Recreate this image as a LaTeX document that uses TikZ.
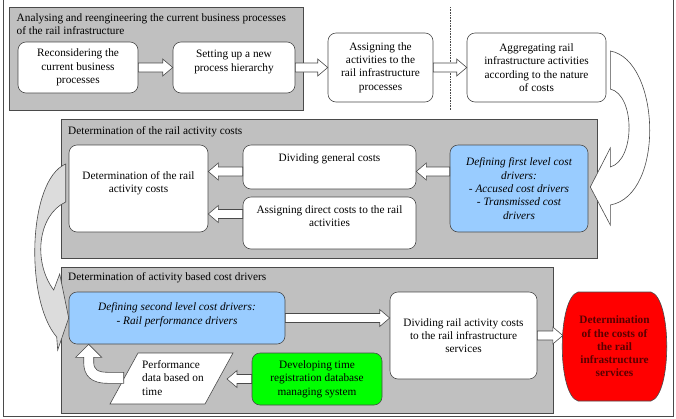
\documentclass[tikz,border=0pt]{standalone}
\usepackage{fontspec}
\setmainfont{Liberation Serif}
\usetikzlibrary{calc}
\definecolor{boxgray}{HTML}{C0C0C0}
\definecolor{edgegray}{HTML}{4A4A4A}
\definecolor{lightblue}{HTML}{99CCFF}
\definecolor{brightgreen}{HTML}{00FF00}
\definecolor{brightred}{HTML}{FF0000}
\definecolor{darkred}{HTML}{5A0000}
\definecolor{pale}{HTML}{DCDCDC}
\newcommand\diagfont{\fontsize{11.3}{13.3}\selectfont}
\tikzset{
  group/.style={draw=edgegray, fill=boxgray, line width=0.8pt},
  txt/.style={font=\diagfont},
  proc/.style={txt, draw=edgegray, fill=white, rounded corners=8pt, line width=0.6pt, align=center, inner sep=1pt},
  grouptitle/.style={txt, inner sep=0pt},
  hollow/.style={draw=edgegray, fill=white, line width=0.6pt, line join=miter},
}
\newcommand\hollowarrow[2]{%
  \path #1; \pgfgetlastxy{\hax}{\hay}%
  \path #2; \pgfgetlastxy{\hbx}{\hby}%
  \pgfmathsetmacro\hang{atan2((\hby)-(\hay),(\hbx)-(\hax))}%
  \pgfmathsetmacro\hlen{veclen((\hbx)-(\hax),(\hby)-(\hay))}%
  \draw[hollow,shift={(\hax,\hay)},rotate=\hang] (0,-4.5) -- ({\hlen-10},-4.5) -- ({\hlen-10},-8.5) -- (\hlen,0) -- ({\hlen-10},8.5) -- ({\hlen-10},4.5) -- (0,4.5) -- cycle;%
}
\begin{document}
\begin{tikzpicture}[x=1pt,y=-1pt]
\useasboundingbox (0,0) rectangle (676,418);
\draw[edgegray, line width=0.8pt] (3,-2) rectangle (673,416);

% groups
\path[group] (9,7) rectangle (303,110);
\path[group] (61,119) rectangle (597,258);
\path[group] (61,267) rectangle (553,413);
\draw[edgegray, densely dotted, line width=0.6pt] (450,7) -- (450,110);

\node[grouptitle, anchor=north west, align=left] (t1) at (16.5,13) {Analysing and reengineering the current business processes\\of the rail infrastructure};
\node[grouptitle, anchor=base west] (t2) at (68,134) {Determination of the rail activity costs};
\node[grouptitle, anchor=base west] (t3) at (68,280.5) {Determination of activity based cost drivers};

% row 1
\node[proc, minimum width=120, minimum height=51] (n1) at (78,67.5) {Reconsidering the\\current business\\processes};
\node[proc, minimum width=122, minimum height=51] (n2) at (234,67.5) {Setting up a new\\process hierarchy\\\mbox{}};
\node[proc, minimum width=105, minimum height=69] (n3) at (380.5,67.5) {Assigning the\\activities to the\\rail infrastructure\\processes};
\node[proc, minimum width=139, minimum height=69] (n4) at (536.5,67.5) {Aggregating rail\\infrastructure activities\\according to the nature\\of costs};

% row 2
\node[proc, minimum width=139, minimum height=87] (n5) at (138.5,188.5) {Determination of the rail\\activity costs\\\mbox{}};
\node[proc, minimum width=173, minimum height=44] (n6) at (329.5,167) {Dividing general costs\\[5pt]\mbox{}};
\node[proc, minimum width=173, minimum height=52] (n7) at (329.5,223) {Assigning direct costs to the rail\\activities\\\mbox{}};
\node[proc, fill=lightblue, minimum width=138, minimum height=87, font=\diagfont\itshape] (n8) at (519,188.5) {Defining first level cost\\drivers:\\- Accused cost drivers\\- Transmissed cost\\drivers};

% curved arrows
\draw[hollow, shift={(n8.east)}] (22,-137.5) .. controls (72,-128.5) and (77,6.5) .. (22,16.5) -- (22,36.5) -- (2,-1.5) -- (22,-40.5) -- (22,-21.5) .. controls (47,-28.5) and (47,-93.5) .. (22,-99.5) -- cycle;

% row 3
\node[proc, fill=lightblue, minimum width=216, minimum height=52, font=\diagfont\itshape] (n9) at (177,318) {Defining second level cost drivers:\\- Rail performance drivers\\[-4.2pt]\mbox{}};
\draw[hollow, fill=pale, shift={(n9.west)}] (-3,-154) .. controls (-41,-138) and (-44,-18) .. (-12,19) -- (-11,32) -- (0,0) -- (-9,-44) -- (-15,-28) .. controls (-36,-56) and (-31,-103) .. (-3,-116) -- cycle;

\node[proc, minimum width=147, minimum height=87] (n10) at (463.5,335.5) {Dividing rail activity costs\\to the rail infrastructure\\services};

\coordinate (rc) at (614.5,346.5);
\draw[draw=edgegray, fill=brightred, line width=0.6pt, shift={(rc)}] (-36.5,-54.5) -- (36.5,-54.5) .. controls (57.5,-48.5) and (57.5,48.5) .. (36.5,54.5) -- (-36.5,54.5) .. controls (-57.5,48.5) and (-57.5,-48.5) .. (-36.5,-54.5) -- cycle;
\node[txt, align=center, text=darkred, font=\diagfont\bfseries, minimum width=105, minimum height=109, inner sep=0pt] (n11) at (rc) {Determination\\of the costs of\\the rail\\infrastructure\\services};

\node[proc, fill=brightgreen, minimum width=130, minimum height=52] (n12) at (317,379) {Developing time\\registration database\\managing system};

\draw[draw=edgegray, fill=white, line width=0.6pt] (138,353) -- (233,353) -- (205,404) -- (110,404) -- cycle;
\node[txt, anchor=west, align=left, inner sep=2pt] (perf) at (140,378) {Performance\\data based on\\time};
\coordinate (perfR) at (227,379);
\coordinate (bt) at ($(n9.south west)+(20,0)$);

% bent arrow
\draw[hollow, shift={(bt)}] (0,0) -- (13,13) -- (5,13) -- (5,18) .. controls (5,25) and (9,28) .. (19,28) -- (35,28) -- (35,39) -- (19,39) .. controls (3,39) and (-5,32) .. (-5,18) -- (-5,13) -- (-13,13) -- cycle;

% straight hollow arrows
\hollowarrow{(n1.east)}{(n2.west)}
\hollowarrow{(n2.east)}{(n3.west)}
\hollowarrow{(n3.east)}{(n4.west)}
\hollowarrow{($(n8.west|-n6.east)+(0,4.5)$)}{($(n6.east)+(0,4.5)$)}
\hollowarrow{($(n6.west)+(0,4.5)$)}{($(n5.east|-n6.west)+(0,4.5)$)}
\hollowarrow{($(n7.west)+(0,-9)$)}{($(n5.east|-n7.west)+(0,-9)$)}
\hollowarrow{(n9.east)}{(n10.west|-n9.east)}
\hollowarrow{(n10.east)}{($(n11.west|-n10.east)+(1,0)$)}
\hollowarrow{(n12.west)}{(perfR)}
\end{tikzpicture}
\end{document}
